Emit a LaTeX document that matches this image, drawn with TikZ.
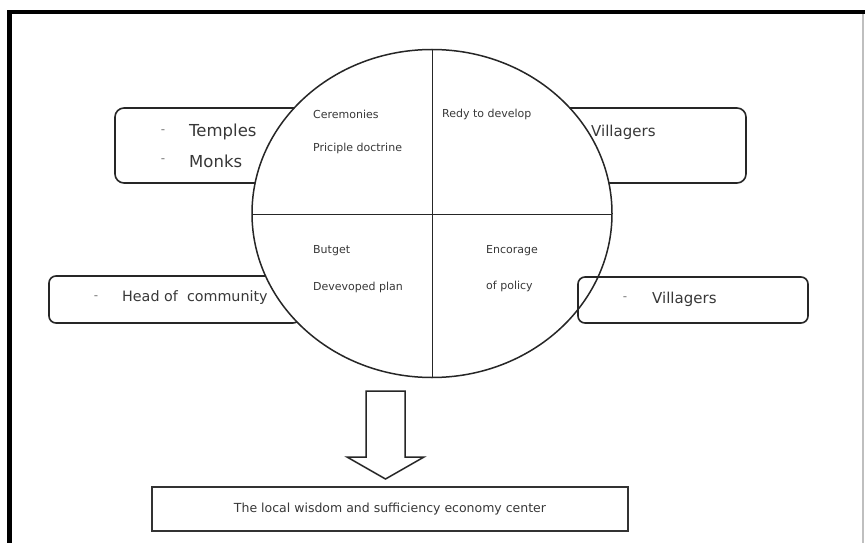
\documentclass[tikz,border=0pt]{standalone}
\usepackage{fontspec}
\setmainfont{DejaVu Sans}
\begin{document}
\begin{tikzpicture}[x=1pt,y=-1pt,
  ink/.style={draw=black!85},
  pillbox/.style={ink,line width=1.6pt,rounded corners=9pt},
  bigtxt/.style={anchor=west,inner sep=0pt,text=black!78,font=\fontsize{15}{17}\selectfont},
  smalltxt/.style={anchor=west,inner sep=0pt,text=black!78,font=\fontsize{11}{13}\selectfont},
  dashtxt/.style={anchor=center,inner sep=0pt,text=black!55,font=\fontsize{12}{14}\selectfont}]
\useasboundingbox (0,0) rectangle (865,543);
\fill[white] (0,0) rectangle (865,543);

% outer frame: heavy top and left rules, light right rule
\draw[black!25,line width=1.5pt] (863,12) -- (863,543);
\draw[black,line width=4.5pt] (9.5,543) -- (9.5,12) -- (865,12);

% actor boxes (their inner ends disappear under the circle)
\draw[pillbox] (115,108) rectangle (320,183);
\draw[pillbox] (545,108) rectangle (746,183);
\draw[pillbox,rounded corners=7pt] (49,276) rectangle (300,323);

% central circle with its four quarters
\filldraw[fill=white,ink,line width=1.5pt] (432,213.5) ellipse [x radius=180, y radius=164];
\coordinate (ctop) at (432,49.5);
\coordinate (cbot) at (432,377.5);
\coordinate (cleft) at (252,214);
\coordinate (cright) at (612,214);
\draw[ink,line width=1pt] (ctop) -- (cbot);
\draw[ink,line width=1pt] (cleft) -- (cright);

% lower right box overlaps the circle outline
\draw[pillbox,rounded corners=7pt] (578,277) rectangle (808,323);

% texts in the boxes
\node[dashtxt] (d1) at (163,132) {-};
\node[bigtxt,font=\fontsize{16.5}{18}\selectfont] (temples) at (189,132) {Temples};
\node[dashtxt] (d2) at (163,161) {-};
\node[bigtxt,font=\fontsize{16.5}{18}\selectfont] (monks) at (189,161) {Monks};
\node[bigtxt] (vill1) at (591,132) {Villagers};
\node[dashtxt] (d3) at (96,298) {-};
\node[bigtxt,font=\fontsize{14.3}{16}\selectfont] (head) at (122,298) {Head of\ \ community};
\node[dashtxt] (d4) at (625,299) {-};
\node[bigtxt] (vill2) at (652,299) {Villagers};

% texts in the quarters
\node[smalltxt] (cer) at (313,114) {Ceremonies};
\node[smalltxt] (doc) at (313,148) {Priciple doctrine};
\node[smalltxt] (redy) at (442,114) {Redy to develop};
\node[smalltxt] (budget) at (313,251) {Butget};
\node[smalltxt] (plan) at (313,287) {Devevoped plan};
\node[smalltxt] (enc) at (486,251) {Encorage};
\node[smalltxt] (pol) at (486,286) {of policy};

% block arrow down to the result box
\draw[ink,line width=1.5pt,line join=miter]
  (366,391) -- (405,391) -- (405,457) -- (424,457) -- (385.5,479)
  -- (347,457) -- (366,457) -- cycle;

% result box
\node[draw=black!80,line width=1.3pt,minimum width=476pt,minimum height=44pt,
      inner sep=0pt,text=black!78,font=\fontsize{12.5}{14}\selectfont]
  (center) at (390,509) {The local wisdom and sufficiency economy center};
\end{tikzpicture}
\end{document}
